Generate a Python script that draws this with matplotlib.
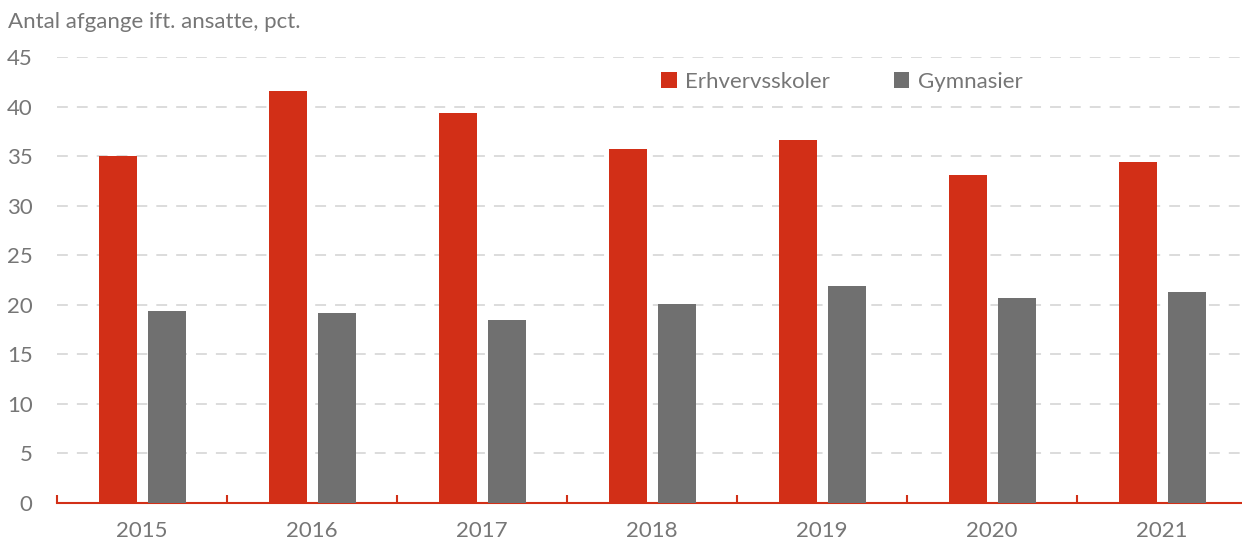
import matplotlib
matplotlib.use("Agg")
import matplotlib.pyplot as plt
import numpy as np

years = ["2015", "2016", "2017", "2018", "2019", "2020", "2021"]
erhverv = [35.0, 41.6, 39.4, 35.7, 36.6, 33.1, 34.4]
gymnasier = [19.4, 19.2, 18.5, 20.1, 21.9, 20.7, 21.3]
yticks = [0, 5, 10, 15, 20, 25, 30, 35, 40, 45]

RED = "#D22F17"
GRAY = "#707070"
TXT = "#767676"
FS = 16

plt.rcParams['font.family'] = ['Lato', 'DejaVu Sans']

W, H = 1242, 543
fig = plt.figure(figsize=(W/100, H/100), dpi=100)
ax = fig.add_axes([57/W, (H-503)/H, 1190/W, (503-57)/H])

x = np.arange(len(years))
bw = 38/170
gap = 11/170
off = (bw + gap)/2
ax.bar(x - off, erhverv, bw, color=RED, label="Erhvervsskoler", zorder=3)
ax.bar(x + off, gymnasier, bw, color=GRAY, label="Gymnasier", zorder=3)

ax.set_xlim(-0.5, len(years) - 0.5)
ax.set_ylim(0, 45)
ax.set_yticks(yticks)
ax.set_yticklabels([str(v) for v in yticks])
for v in yticks[1:]:
    ax.axhline(v, color="#D9D9D9", lw=1.3, ls=(0, (6, 5)), zorder=1)

for s in ["top", "right", "left"]:
    ax.spines[s].set_visible(False)
ax.spines["bottom"].set_color(RED)
ax.spines["bottom"].set_linewidth(1.5)

ax.set_xticks(x)
ax.set_xticklabels(years)
ax.set_xticks(np.arange(len(years) + 1) - 0.5, minor=True)
ax.tick_params(axis="x", which="major", length=0, pad=13, labelsize=FS, labelcolor=TXT)
ax.tick_params(axis="x", which="minor", length=6, width=1.5, color=RED, direction="in")
ax.tick_params(axis="y", length=0, pad=17.5, labelsize=FS, labelcolor=TXT)

fig.text(8/W, 1 - 22/H, "Antal afgange ift. ansatte, pct.", fontsize=FS, color=TXT, va="center", ha="left")

leg = ax.legend(loc="upper left", bbox_to_anchor=((661-57)/1190, 1 - (72-57)/446), ncol=2,
                frameon=False, fontsize=FS, handlelength=0.7, handleheight=0.7,
                handletextpad=0.4, columnspacing=2.85, borderaxespad=0, borderpad=0)
for t in leg.get_texts():
    t.set_color(TXT)

fig.savefig("out.png", dpi=100)
